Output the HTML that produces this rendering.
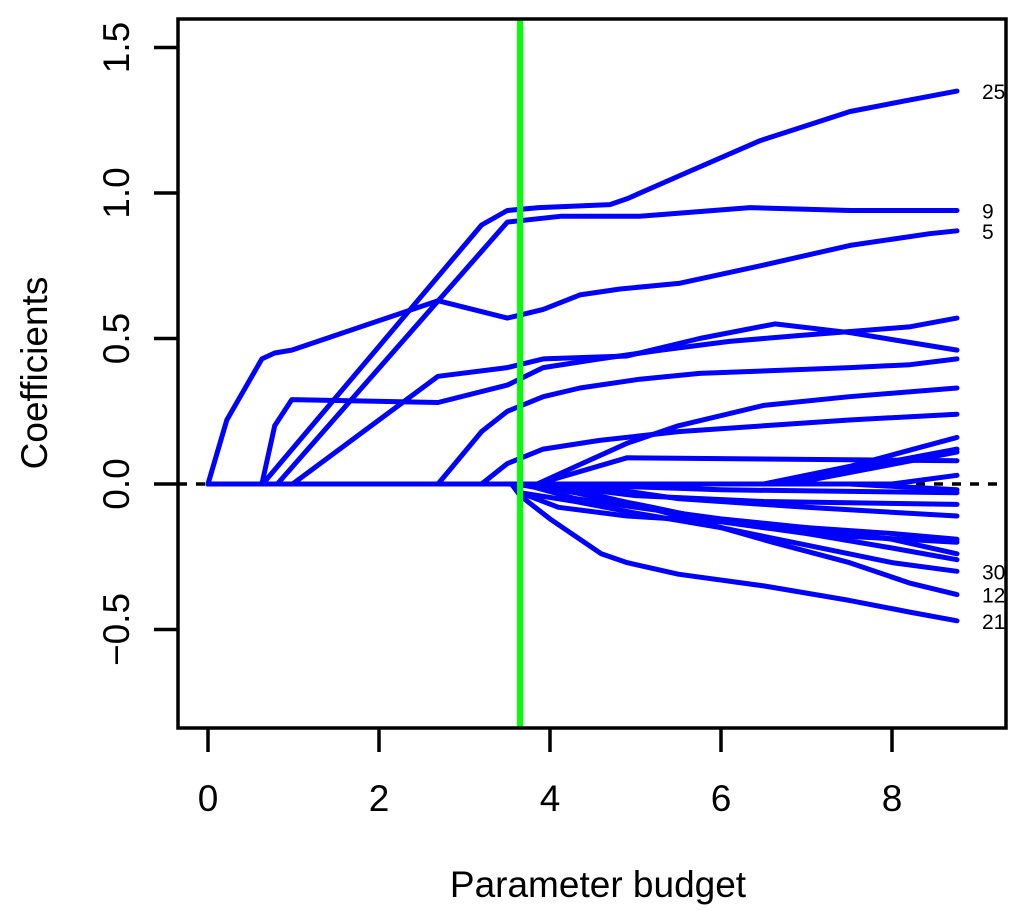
<!DOCTYPE html>
<html><head><meta charset="utf-8"><style>
html,body{margin:0;padding:0;background:#fff;}
svg{display:block;font-family:"Liberation Sans",Arial,sans-serif;}
</style></head><body>
<svg id="chart" width="1024" height="910" viewBox="0 0 1024 910">
<rect x="0" y="0" width="1024" height="910" fill="#fff"/>
<g id="series"></g>
<g id="axes"></g>
</svg>
<script>
const xTicks = [0, 2, 4, 6, 8];
const yTicks = [-0.5, 0.0, 0.5, 1.0, 1.5];
const yTickLabels = ["\u22120.5", "0.0", "0.5", "1.0", "1.5"];
const selectedBudget = 3.65;
const seriesX = [
 [0,0.64,3.2,3.5,3.87,4.7,4.9,5.52,6.46,7.51,8.21,8.76],
 [0,0.81,3.5,4.12,5.05,6.34,7.51,8.76],
 [0,0.22,0.63,0.78,0.98,2.69,3.5,3.92,4.35,4.82,5.52,6.46,7.51,8.44,8.76],
 [0,0.63,0.78,0.98,2.69,3.5,3.92,4.58,5.3,6.1,6.9,8.2,8.76],
 [0,0.99,2.69,3.5,3.92,4.9,5.75,6.63,7.51,8.76],
 [0,2.69,3.2,3.5,3.92,4.35,5.05,5.75,6.63,7.51,8.21,8.76],
 [0,3.2,3.5,3.92,4.58,5.5,6.5,7.5,8.76],
 [0,3.85,4.3,4.9,5.5,6.5,7.5,8.76],
 [0,6.5,7.5,8.76],
 [0,6.6,8.76],
 [0,6.8,8.76],
 [0,3.85,4.9,8.76],
 [0,8.0,8.76],
 [0,7.5,8.76],
 [0,4.0,6,8.76],
 [0,3.9,5,6.5,8.76],
 [0,4.3,5.5,7,8.76],
 [0,3.55,3.65,4.1,4.9,6,7,8,8.76],
 [0,3.9,4.3,4.9,5.5,6.5,7.5,8.76],
 [0,3.6,3.8,4.3,5,6,7,8,8.76],
 [0,3.7,4.5,5.2,6,7,8,8.76],
 [0,3.55,3.65,4.3,5,6,7,8,8.76],
 [0,4.0,5.0,6.0,6.6,7.5,8.2,8.76],
 [0,3.55,3.65,4.0,4.6,4.9,5.5,6.5,7.5,8.2,8.76]
];
const seriesY = [
 [0,0,0.89,0.94,0.95,0.96,0.98,1.06,1.18,1.28,1.32,1.35],
 [0,0,0.9,0.92,0.92,0.95,0.94,0.94],
 [0,0.22,0.43,0.45,0.46,0.63,0.57,0.6,0.65,0.67,0.69,0.75,0.82,0.86,0.87],
 [0,0,0.2,0.29,0.28,0.34,0.4,0.43,0.46,0.49,0.51,0.54,0.57],
 [0,0,0.37,0.4,0.43,0.44,0.5,0.55,0.52,0.46],
 [0,0,0.18,0.25,0.3,0.33,0.36,0.38,0.39,0.4,0.41,0.43],
 [0,0,0.07,0.12,0.15,0.18,0.2,0.22,0.24],
 [0,0,0.06,0.14,0.2,0.27,0.3,0.33],
 [0,0,0.06,0.16],
 [0,0,0.12],
 [0,0,0.11],
 [0,0,0.09,0.08],
 [0,0,0.03],
 [0,0,-0.02],
 [0,0,-0.02,-0.03],
 [0,0,-0.04,-0.06,-0.07],
 [0,0,-0.05,-0.08,-0.11],
 [0,0,-0.03,-0.08,-0.11,-0.13,-0.15,-0.17,-0.19],
 [0,0,-0.03,-0.07,-0.1,-0.15,-0.18,-0.2],
 [0,0,-0.01,-0.05,-0.08,-0.12,-0.15,-0.19,-0.24],
 [0,0,-0.04,-0.08,-0.13,-0.17,-0.22,-0.26],
 [0,0,-0.03,-0.06,-0.1,-0.15,-0.21,-0.27,-0.3],
 [0,0,-0.07,-0.15,-0.2,-0.27,-0.34,-0.38],
 [0,0,-0.04,-0.12,-0.24,-0.27,-0.31,-0.35,-0.4,-0.44,-0.47]
];
const endLabels = ["25","9","5","30","12","21"];
const endLabelValues = [1.35,0.94,0.87,-0.3,-0.38,-0.47];

const NS="http://www.w3.org/2000/svg";
const sx = v => 208 + v*85.5;
const sy = v => 484 - v*291;
function mk(tag, attrs, parent){const e=document.createElementNS(NS,tag);for(const k in attrs)e.setAttribute(k,attrs[k]);parent.appendChild(e);return e;}
const gS=document.getElementById('series'), gA=document.getElementById('axes');

let z=mk('line',{x1:178,x2:1006,y1:sy(0),y2:sy(0),stroke:'#000','stroke-width':3.5,'stroke-dasharray':'9,9'},gS);



seriesX.forEach((xs,i)=>{
  const d=xs.map((x,j)=>(j?'L':'M')+sx(x).toFixed(1)+','+sy(seriesY[i][j]).toFixed(1)).join(' ');
  const p=mk('path',{d:d,fill:'none',stroke:'#0000ff','stroke-width':5,'stroke-linejoin':'round','stroke-linecap':'round'},gS);
  
  
});

const vl=mk('line',{x1:sx(selectedBudget),x2:sx(selectedBudget),y1:19,y2:728,stroke:'#00ff00','stroke-width':6},gS);



endLabels.forEach((t,i)=>{
  const e=mk('text',{x:982,y:sy(endLabelValues[i])+8,'font-size':21,fill:'#000'},gA);
  e.textContent=t;
  
  
});

const box=mk('rect',{x:178,y:19,width:828,height:709,fill:'none',stroke:'#000','stroke-width':3.5},gA);



xTicks.forEach(v=>{
  const t=mk('line',{x1:sx(v),x2:sx(v),y1:728,y2:752,stroke:'#000','stroke-width':3.5},gA);
  
  
  const l=mk('text',{x:sx(v),y:811,'font-size':37,'text-anchor':'middle',fill:'#000'},gA);
  l.textContent=String(v);
  
  
});
yTicks.forEach((v,i)=>{
  const t=mk('line',{x1:154,x2:178,y1:sy(v),y2:sy(v),stroke:'#000','stroke-width':3.5},gA);
  
  
  const l=mk('text',{x:0,y:0,'font-size':37,'text-anchor':'middle',fill:'#000',transform:'translate(129,'+sy(v)+') rotate(-90)'},gA);
  l.textContent=yTickLabels[i];
  
  
});
const xt=mk('text',{x:598,y:897,'font-size':37,'text-anchor':'middle',fill:'#000'},gA);
xt.textContent='Parameter budget';


const yt=mk('text',{x:0,y:0,'font-size':37,'text-anchor':'middle',fill:'#000',transform:'translate(47,373) rotate(-90)'},gA);
yt.textContent='Coefficients';


</script>
</body></html>
